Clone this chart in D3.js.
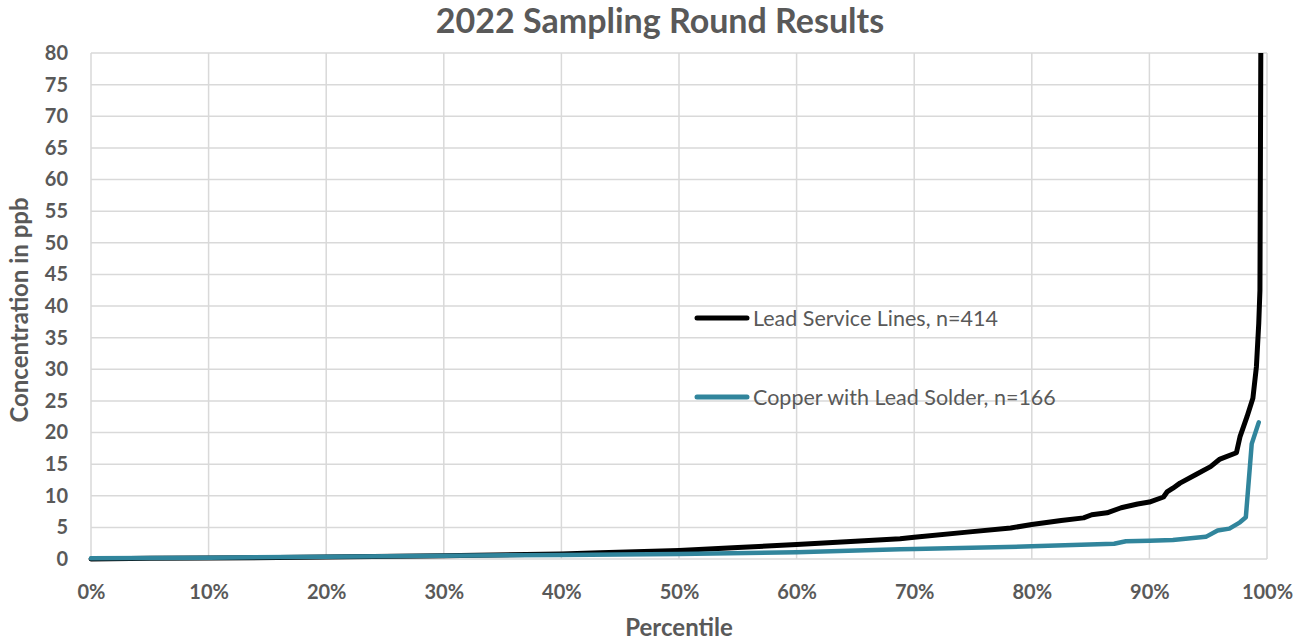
<!DOCTYPE html>
<html>
<head>
<meta charset="utf-8">
<script src="https://cdn.jsdelivr.net/npm/d3@7"></script>
<style>
  body { margin: 0; background: #fff; }
  svg { display: block; font-family: Lato, "Open Sans", sans-serif; }
</style>
</head>
<body>
<svg id="chart"></svg>
<script>
// lead service lines (percentile %, concentration ppb)
const leadPct = [0, 5, 10, 20, 30, 40, 43.3, 50, 55, 60, 66.9, 68.8, 70, 74.5, 78.2, 80, 82.5, 84.4, 85.1, 86.4, 87.6, 89, 90, 91.2, 91.5, 92, 92.6, 94, 95.2, 96, 97.4, 97.7, 98.3, 98.8, 99.1, 99.3, 99.4, 99.55];
const leadVal = [0, 0.1, 0.15, 0.3, 0.5, 0.8, 1.0, 1.35, 1.8, 2.3, 3.0, 3.2, 3.45, 4.25, 4.9, 5.45, 6.1, 6.5, 7.0, 7.3, 8.1, 8.7, 9.0, 9.8, 10.6, 11.2, 12, 13.4, 14.6, 15.8, 16.8, 19.3, 22.5, 25.4, 30.4, 37.3, 42.5, 120];

// copper with lead solder
const copperPct = [0, 10, 20, 30, 40, 50, 60, 68.8, 70, 80, 87, 88, 90, 92, 94.8, 95.8, 96.8, 97.7, 98.2, 98.7, 99.3];
const copperVal = [0.1, 0.2, 0.35, 0.5, 0.65, 0.8, 1.05, 1.55, 1.6, 2.0, 2.4, 2.8, 2.9, 3.0, 3.5, 4.5, 4.8, 5.8, 6.6, 18.2, 21.6];

const xTicks = [0, 10, 20, 30, 40, 50, 60, 70, 80, 90, 100];
const yTicks = d3.range(0, 81, 5);

const seriesNames = ["Lead Service Lines, n=414", "Copper with Lead Solder, n=166"];
const seriesColors = ["#000000", "#31859c"];

const width = 1299, height = 640;
const margin = { top: 53, right: 32, bottom: 81, left: 91 };
const textColor = "#595959";
const gridColor = "#d9d9d9";

const svg = d3.select("#chart").attr("width", width).attr("height", height);

const x = d3.scaleLinear().domain([0, 100]).range([margin.left, width - margin.right]);
const y = d3.scaleLinear().domain([0, 80]).range([height - margin.bottom, margin.top]);

// gridlines
svg.append("g")
  .selectAll("line")
  .data(yTicks)
  .join("line")
  .attr("x1", x(0)).attr("x2", x(100))
  .attr("y1", d => y(d)).attr("y2", d => y(d))
  .attr("stroke", gridColor).attr("stroke-width", 1.5);

svg.append("g")
  .selectAll("line")
  .data(xTicks)
  .join("line")
  .attr("x1", d => x(d)).attr("x2", d => x(d))
  .attr("y1", y(0)).attr("y2", y(80))
  .attr("stroke", gridColor).attr("stroke-width", 1.5);

// axes (labels only)
const yAxis = d3.axisLeft(y).tickValues(yTicks).tickSize(0).tickPadding(23);
const xAxis = d3.axisBottom(x).tickValues(xTicks).tickSize(0).tickPadding(26)
  .tickFormat(d => d + "%");

svg.append("g")
  .attr("transform", `translate(${margin.left},0)`)
  .call(yAxis)
  .call(g => g.select(".domain").remove())
  .selectAll("text")
  .attr("fill", textColor).attr("font-size", 20).attr("font-weight", "bold")
  .attr("font-family", "Lato, sans-serif");

svg.append("g")
  .attr("transform", `translate(0,${height - margin.bottom})`)
  .call(xAxis)
  .call(g => g.select(".domain").remove())
  .selectAll("text")
  .attr("fill", textColor).attr("font-size", 20).attr("font-weight", "bold")
  .attr("font-family", "Lato, sans-serif");

// clip
svg.append("clipPath").attr("id", "plot")
  .append("rect")
  .attr("x", x(0) - 5).attr("y", y(80))
  .attr("width", x(100) - x(0) + 10).attr("height", y(0) - y(80) + 5);

const line = d3.line().x(d => x(d[0])).y(d => y(d[1]));

const copperData = copperPct.map((p, i) => [p, copperVal[i]]);
const leadData = leadPct.map((p, i) => [p, leadVal[i]]);

// lead first, copper drawn on top
const lines = svg.append("g").attr("clip-path", "url(#plot)");
lines.append("path").datum(leadData)
  .attr("d", line).attr("fill", "none")
  .attr("stroke", seriesColors[0]).attr("stroke-width", 5)
  .attr("stroke-linejoin", "round").attr("stroke-linecap", "round");
lines.append("path").datum(copperData)
  .attr("d", line).attr("fill", "none")
  .attr("stroke", seriesColors[1]).attr("stroke-width", 4.5)
  .attr("stroke-linejoin", "round").attr("stroke-linecap", "round");

// legend
const legendY = [318, 397];
const legend = svg.append("g");
seriesNames.forEach((name, i) => {
  legend.append("line")
    .attr("x1", 697).attr("x2", 747)
    .attr("y1", legendY[i]).attr("y2", legendY[i])
    .attr("stroke", seriesColors[i]).attr("stroke-width", 5)
    .attr("stroke-linecap", "round");
  legend.append("text")
    .attr("x", 753).attr("y", legendY[i] + 8)
    .attr("fill", textColor).attr("font-size", 21.5)
    .text(name);
});

// title
svg.append("text")
  .attr("x", 660).attr("y", 33)
  .attr("text-anchor", "middle")
  .attr("fill", textColor).attr("font-size", 34).attr("font-weight", "bold")
  .text("2022 Sampling Round Results");

// axis titles
svg.append("text")
  .attr("x", x(50)).attr("y", 636)
  .attr("text-anchor", "middle")
  .attr("fill", textColor).attr("font-size", 24).attr("font-weight", "bold")
  .text("Percentile");

svg.append("text")
  .attr("transform", `translate(28,${(y(0) + y(80)) / 2 + 4}) rotate(-90)`)
  .attr("text-anchor", "middle")
  .attr("fill", textColor).attr("font-size", 24).attr("font-weight", "bold")
  .text("Concentration in ppb");
</script>
</body>
</html>
